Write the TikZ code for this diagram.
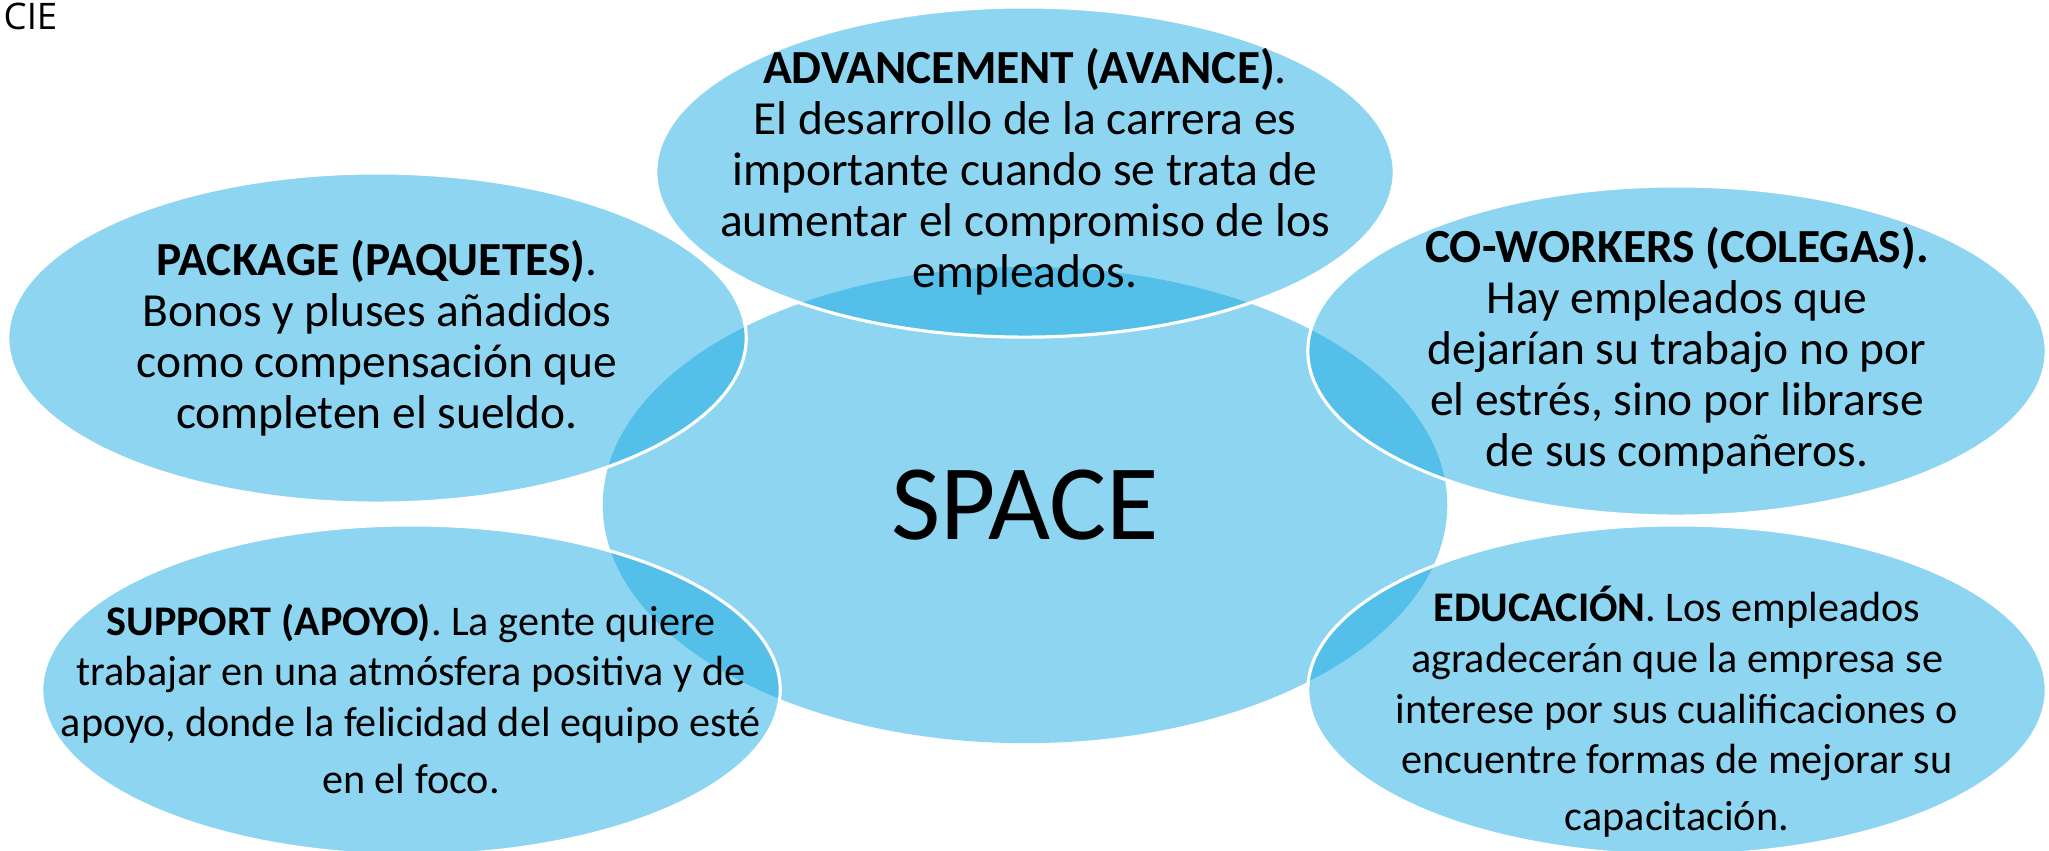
\documentclass[tikz,border=0pt]{standalone}
\usepackage{fontspec}
\setmainfont{Carlito}
\newfontfamily\ciefont{Open Sans}
\usetikzlibrary{shapes.geometric}
\definecolor{petal}{RGB}{28,173,228}
\tikzset{
  hub/.style={ellipse, fill=petal, fill opacity=0.5, inner sep=0pt,
    minimum width=8.44cm, minimum height=4.76cm},
  bubble/.style={ellipse, fill=petal, fill opacity=0.5, draw=white,
    line width=0.9pt, inner sep=0pt, minimum width=7.38cm, minimum height=3.30cm},
  blurb/.style={align=center, font=\fontsize{13.5}{14.5}\selectfont},
  smallblurb/.style={align=center, font=\fontsize{12}{14.4}\selectfont}
}

\begin{document}
\begin{tikzpicture}[x=0.01cm, y=-0.01cm]
    \fill[white] (0,0) rectangle (2049,850);
    \useasboundingbox (0,0) rectangle (2049,850);
    \node[hub] (space) at (1025,505) {};
    \node[bubble] (advancement) at (1025,172) {};
    \node[bubble] (package) at (377,338) {};
    \node[bubble] (coworkers) at (1677,351) {};
    \node[bubble] (support) at (411,690) {};
    \node[bubble] (educacion) at (1677,690) {};

    \node[font=\fontsize{30.5}{32}\selectfont] (spacetxt) at (space.center) {SPACE};
    \node[blurb] (advancementtxt) at (advancement.center)
       {\textbf{ADVANCEMENT (AVANCE)}.\\ El desarrollo de la carrera es\\
        importante cuando se trata de\\ aumentar el compromiso de los\\ empleados.};
    \node[blurb] (packagetxt) at (package.center)
       {\textbf{PACKAGE (PAQUETES)}.\\ Bonos y pluses añadidos\\
        como compensación que\\ completen el sueldo.};
    \node[blurb] (coworkerstxt) at (coworkers.center)
       {\textbf{CO-WORKERS (COLEGAS).}\\ Hay empleados que\\
        dejarían su trabajo no por\\ el estrés, sino por librarse\\ de sus compañeros.};
    \node[smallblurb, yshift=-0.09cm] (supporttxt) at (support.center)
       {\textbf{SUPPORT (APOYO)}. La gente quiere\\ trabajar en una atmósfera positiva y de\\
        apoyo, donde la felicidad del equipo esté\\[1.9pt] en el foco.};
    \node[smallblurb, yshift=-0.22cm] (educaciontxt) at (educacion.center)
       {\textbf{EDUCACIÓN}. Los empleados\\ agradecerán que la empresa se\\
        interese por sus cualificaciones o\\ encuentre formas de mejorar su\\[1.9pt] capacitación.};

    \node[anchor=base west, inner sep=0pt, font=\ciefont\fontsize{10.4}{12}\selectfont] (cie) at (3,29) {CIE};
\end{tikzpicture}
\end{document}
